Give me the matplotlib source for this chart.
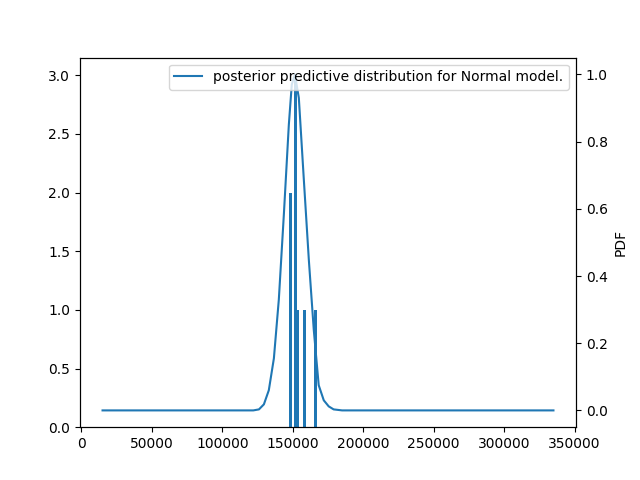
import matplotlib
matplotlib.use("Agg")
import matplotlib.pyplot as plt

bar_left = [147200, 150700, 152600, 157100, 164900]
bar_height = [2, 3, 1, 1, 1]
bar_width = 2000

curve_x = [15000, 100000, 122000, 126000, 129500, 133000, 136600, 140100, 143700, 147200,
           149300, 151500, 154300, 157800, 161400, 164900, 168400, 172000, 175500, 179000,
           185000, 250000, 335000]
curve_y = [0, 0, 0, 0.003, 0.018, 0.06, 0.155, 0.33, 0.585, 0.85,
           0.97, 1.0, 0.93, 0.69, 0.448, 0.24, 0.075, 0.03, 0.012, 0.003,
           0, 0, 0]

fig, ax = plt.subplots(figsize=(6.4, 4.8), dpi=100)
ax.bar(bar_left, bar_height, width=bar_width, align='edge', color='#1f77b4')
ax.set_xlim(-1000, 351000)
ax2 = ax.twinx()
ax2.plot(curve_x, curve_y, color='#1f77b4', label='posterior predictive distribution for Normal model.')
ax2.set_ylabel('PDF')
ax2.set_ylim(-0.05, 1.05)
ax2.legend(loc='upper right')
fig.savefig('out.png')
